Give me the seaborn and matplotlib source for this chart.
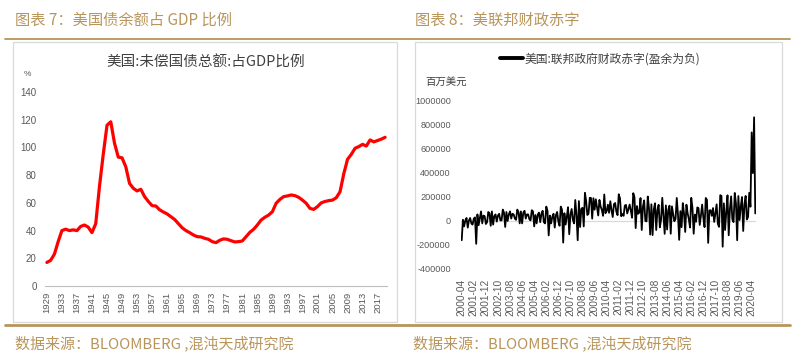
import numpy as np
import pandas as pd
import seaborn as sns
import matplotlib.pyplot as plt
from matplotlib.patches import Rectangle
from matplotlib.lines import Line2D

# 图表7: 美国未偿国债总额占GDP比例 (%), 1929-2019
years = list(range(1929, 2020))
debt_gdp = [17, 18.5, 23, 32, 40, 41, 40, 40.5, 40, 43,
            44, 42.5, 38.5, 45, 72, 95, 116, 118.5, 103, 93,
            92.5, 86, 74, 70.5, 68.6, 69.8, 64.5, 61, 58, 57.7,
            55, 53.4, 52, 50, 48, 45, 42, 40, 38.5, 36.8,
            35.6, 35.4, 34.4, 33.7, 32, 31.3, 33, 34, 33.7, 32.7,
            31.8, 32, 32.5, 35.6, 38.7, 40.9, 44, 47.6, 49.6, 51.2,
            53.6, 59.7, 62.5, 64.5, 65, 65.7, 65.2, 64, 62, 59.7,
            56, 55.3, 57.3, 60, 61, 61.6, 62, 63.7, 68, 81,
            91.4, 95, 99.4, 100.6, 102.2, 101, 105.4, 104, 105, 106,
            107.3]

# 图表8: 美国联邦政府月度财政赤字 (十亿美元, 盈余为负), 2000-04 ~ 2020-07
def_2000 = [-160, 10, -45, 5, 25, -55, 5, 25, -20]          # Apr-Dec
def_2001 = [-30, 20, 30, -190, 55, -35, 25, 80, -20, 45, 40, -25]
def_2002 = [-10, 75, 65, -40, 80, -30, 40, 55, -5, 45, 60, 5]
def_2003 = [5, 95, 70, -50, 75, 0, 55, 80, 20, 60, 55, 20]
def_2004 = [10, 95, 75, -20, 80, -20, 70, 85, 20, 55, 55, 15]
def_2005 = [5, 90, 80, -45, 50, -20, 55, 70, -10, 60, 85, -10]
def_2006 = [-20, 120, 85, -120, 45, -20, 35, 60, -55, 50, 75, -5]
def_2007 = [-40, 120, 95, -180, 65, -30, 35, 115, -110, 55, 100, 10]
def_2008 = [-20, 175, 48, -160, 166, -50, 100, 110, -45, 235, 165, 50]
def_2009 = [63, 193, 192, 20, 190, 94, 181, 111, 46, 176, 120, 92]
def_2010 = [43, 221, 65, 83, 136, 68, 165, 91, 33, 140, 150, 78]
def_2011 = [49, 223, 189, 40, 58, 43, 129, 134, 63, 98, 137, 86]
def_2012 = [27, 232, 198, -59, 125, 60, 70, 191, -75, 120, 172, 1]
def_2013 = [-3, 204, 107, -113, 139, -117, 98, 148, -75, 91, 135, -53]
def_2014 = [10, 193, 37, -107, 130, -71, 94, 128, -106, 122, 57, -2]
def_2015 = [18, 192, 53, -157, 82, -51, 149, 64, -91, 136, 65, 14]
def_2016 = [-55, 193, 108, -106, 53, -6, 113, 107, -33, 45, 137, 27]
def_2017 = [-51, 192, 176, -182, 88, 90, 43, 108, -8, 63, 139, -23]
def_2018 = [-49, 215, 209, -214, 147, -75, 77, 214, -119, 100, 205, 14]
def_2019 = [-9, 234, 147, -160, 208, 8, 120, 200, -83, 134, 209, 13]
def_2020 = [33, 235, 119, 738, 399, 864, 63]                # Jan-Jul

deficit_bn = (def_2000 + def_2001 + def_2002 + def_2003 + def_2004 + def_2005
              + def_2006 + def_2007 + def_2008 + def_2009 + def_2010 + def_2011
              + def_2012 + def_2013 + def_2014 + def_2015 + def_2016 + def_2017
              + def_2018 + def_2019 + def_2020)
deficit = np.array(deficit_bn) * 1000  # 百万美元
months = pd.period_range("2000-04", periods=len(deficit), freq="M").strftime("%Y-%m")

debt_df = pd.DataFrame({"year": years, "ratio": debt_gdp})
def_df = pd.DataFrame({"idx": np.arange(len(deficit)), "deficit": deficit})

sns.set_style("white")
plt.rcParams["font.family"] = ["Noto Sans CJK SC", "DejaVu Sans"]

W, H = 795, 359
gold = "#b8955b"
tick_col = "#595959"
num_font = "Liberation Sans"

fig = plt.figure(figsize=(W / 100, H / 100), dpi=100)


def fx(px):
    return px / W


def fy(py):
    return 1 - py / H


# headers, rules, footers
fig.text(fx(15), fy(20), "图表 7：美国债余额占 GDP 比例", color=gold, fontsize=11, va="center")
fig.text(fx(415), fy(20), "图表 8：美联邦财政赤字", color=gold, fontsize=11, va="center")
fig.add_artist(Line2D([fx(5), fx(790)], [fy(39), fy(39)], color=gold, lw=1.3))
fig.add_artist(Line2D([fx(5), fx(790)], [fy(325), fy(325)], color=gold, lw=2))
fig.text(fx(15), fy(343), "数据来源：BLOOMBERG ,混沌天成研究院", color=gold, fontsize=10.8, va="center")
fig.text(fx(413), fy(343), "数据来源：BLOOMBERG ,混沌天成研究院", color=gold, fontsize=10.8, va="center")

# chart boxes
fig.add_artist(Rectangle((fx(13), fy(322)), fx(397 - 13), (322 - 42) / H,
                         fill=False, edgecolor="#d9d9d9", lw=0.9))
fig.add_artist(Rectangle((fx(415), fy(322)), fx(782 - 415), (322 - 42) / H,
                         fill=False, edgecolor="#d9d9d9", lw=0.9))

# ---- left chart
ax1 = fig.add_axes([fx(45), fy(286), fx(342), 194 / H])
sns.lineplot(data=debt_df, x="year", y="ratio", ax=ax1, color="#ff0000", linewidth=2.3)
ax1.set_xlim(1928.5, 2019.5)
ax1.set_ylim(0, 140)
ax1.set_yticks(range(0, 141, 20))
ax1.set_xticks(years[::4])
ax1.set_xticklabels([str(y) for y in years[::4]], rotation=90, family=num_font, fontsize=6.8, color=tick_col)
ax1.set_yticklabels([str(v) for v in range(0, 141, 20)], family=num_font, fontsize=7, color=tick_col)
ax1.set_xticks(np.arange(1928.5, 2020, 4), minor=True)
ax1.tick_params(axis="x", which="major", length=0, pad=4)
ax1.tick_params(axis="x", which="minor", length=3, color="#bfbfbf", direction="out")
ax1.tick_params(axis="y", length=0, pad=6)
for s in ["top", "right", "left"]:
    ax1.spines[s].set_visible(False)
ax1.spines["bottom"].set_color("#bfbfbf")
ax1.set_xlabel("")
ax1.set_ylabel("")
ax1.set_facecolor("none")
fig.text(fx(206), fy(63), "美国:未偿国债总额:占GDP比例", color="#404040", fontsize=10.5, ha="center", va="center")
fig.text(fx(27), fy(75), "%", color=tick_col, fontsize=6, ha="center", va="center", family=num_font)

# ---- right chart
ax2 = fig.add_axes([fx(460.5), fy(269), fx(296), 168 / H])
ax2.axhline(0, color="#d9d9d9", lw=0.9, zorder=0)
sns.lineplot(data=def_df, x="idx", y="deficit", ax=ax2, color="black", linewidth=1.3)
ax2.set_xlim(-1, 244)
ax2.set_ylim(-400000, 1000000)
yt = list(range(-400000, 1000001, 200000))
ax2.set_yticks(yt)
ax2.set_yticklabels([str(v) for v in yt], family=num_font, fontsize=6.6, color=tick_col)
xt = list(range(0, len(deficit), 10))
ax2.set_xticks(xt)
ax2.set_xticklabels([months[i] for i in xt], rotation=90, family=num_font, fontsize=7.3, color=tick_col)
ax2.tick_params(axis="both", length=0)
ax2.tick_params(axis="x", pad=7)
ax2.tick_params(axis="y", pad=7)
for s in ax2.spines.values():
    s.set_visible(False)
ax2.set_xlabel("")
ax2.set_ylabel("")
ax2.set_facecolor("none")
handle = Line2D([], [], color="black", lw=2.8)
ax2.legend([handle], ["美国:联邦政府财政赤字(盈余为负)"], loc="center",
           bbox_to_anchor=(fx(600), fy(59)), bbox_transform=fig.transFigure,
           frameon=False, fontsize=8.5, handlelength=2.0, handletextpad=0.1,
           labelcolor="#404040")
fig.text(fx(425), fy(83), "百万美元", color="#404040", fontsize=7.5, va="center")

fig.savefig("out.png", dpi=100)
